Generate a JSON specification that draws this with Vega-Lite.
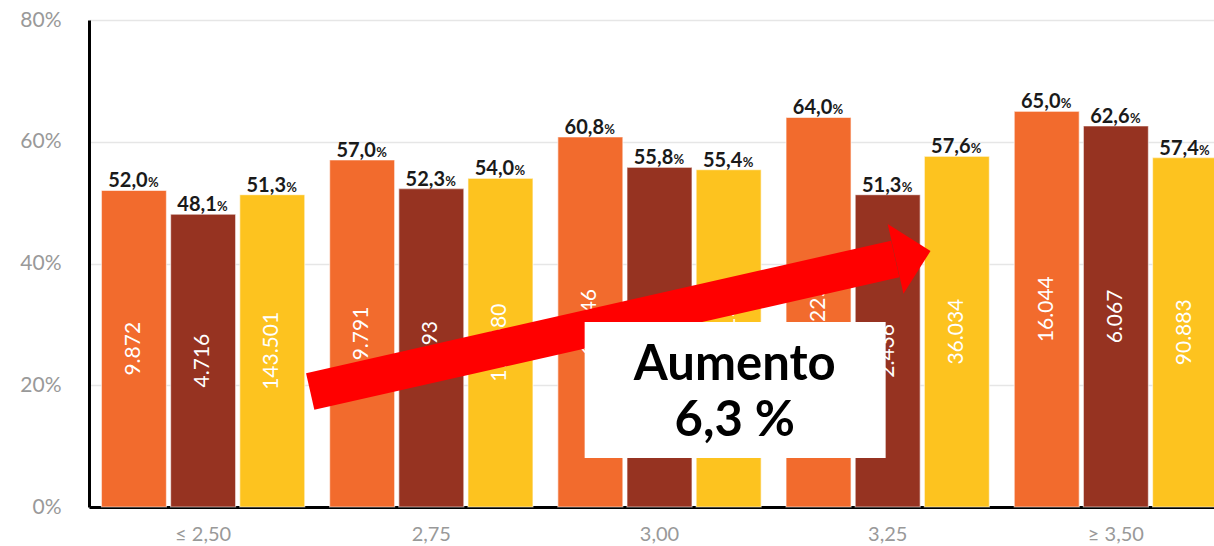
{
  "$schema": "https://vega.github.io/schema/vega-lite/v6.json",
  "autosize": {"type": "none"},
  "width": 1125,
  "height": 487,
  "padding": {"left": 89, "top": 20, "right": 0, "bottom": 39},
  "background": "white",
  "config": {"view": {"stroke": null}, "font": "Lato"},
  "datasets": {
    "bars": [
      {"g": "≤ 2,50", "s": "A", "v": 52.0, "t": "52,0", "n": "9.872"},
      {"g": "≤ 2,50", "s": "B", "v": 48.1, "t": "48,1", "n": "4.716"},
      {"g": "≤ 2,50", "s": "C", "v": 51.3, "t": "51,3", "n": "143.501"},
      {"g": "2,75", "s": "A", "v": 57.0, "t": "57,0", "n": "9.791"},
      {"g": "2,75", "s": "B", "v": 52.3, "t": "52,3", "n": "4.893"},
      {"g": "2,75", "s": "C", "v": 54.0, "t": "54,0", "n": "118.680"},
      {"g": "3,00", "s": "A", "v": 60.8, "t": "60,8", "n": "12.346"},
      {"g": "3,00", "s": "B", "v": 55.8, "t": "55,8", "n": "5.372"},
      {"g": "3,00", "s": "C", "v": 55.4, "t": "55,4", "n": "61.215"},
      {"g": "3,25", "s": "A", "v": 64.0, "t": "64,0", "n": "9.225"},
      {"g": "3,25", "s": "B", "v": 51.3, "t": "51,3", "n": "2.436"},
      {"g": "3,25", "s": "C", "v": 57.6, "t": "57,6", "n": "36.034"},
      {"g": "≥ 3,50", "s": "A", "v": 65.0, "t": "65,0", "n": "16.044"},
      {"g": "≥ 3,50", "s": "B", "v": 62.6, "t": "62,6", "n": "6.067"},
      {"g": "≥ 3,50", "s": "C", "v": 57.4, "t": "57,4", "n": "90.883"}
    ],
    "shaft": [
      {"ax": 0.9693, "ay": 18.97},
      {"ax": 3.533, "ay": 40.74}
    ],
    "head": [
      {"ax": 3.611, "ay": 41.40}
    ],
    "box": [
      {"ax": 2.172, "ax2": 3.491, "ay": 30.39, "ay2": 8.05}
    ],
    "note": [
      {"ax": 2.8296, "ay": 20.86, "label": "Aumento"},
      {"ax": 2.8296, "ay": 11.66, "label": "6,3 %"}
    ]
  },
  "layer": [
    {
      "data": {"name": "bars"},
      "encoding": {
        "x": {
          "field": "g", "type": "nominal", "sort": null,
          "scale": {"range": [0, 1141], "paddingInner": 0.109, "paddingOuter": 0.0545},
          "axis": {
            "title": null, "ticks": false, "domainColor": "#000000", "domainWidth": 3,
            "labelFont": "Lato", "labelFontSize": 20, "labelColor": "#999999", "labelPadding": 17, "labelAngle": 0
          }
        },
        "xOffset": {"field": "s", "type": "nominal", "scale": {"paddingInner": 0.06, "paddingOuter": 0}}
      },
      "layer": [
        {
          "encoding": {
            "y": {
              "field": "v", "type": "quantitative",
              "scale": {"domain": [0, 80], "nice": false, "zero": true},
              "axis": {
                "title": null, "values": [0, 20, 40, 60, 80], "labelExpr": "datum.value + '%'",
                "ticks": false, "domainColor": "#000000", "domainWidth": 3,
                "gridColor": "#e6e6e6", "gridWidth": 1.5,
                "labelFont": "Lato", "labelFontSize": 21, "labelColor": "#999999", "labelPadding": 28
              }
            }
          },
          "layer": [
            {
              "mark": {"type": "bar", "stroke": "#ffffff", "strokeOpacity": 0.55, "strokeWidth": 1.2},
              "encoding": {
                "color": {
                  "field": "s", "type": "nominal",
                  "scale": {"domain": ["A", "B", "C"], "range": ["#F26B2D", "#963321", "#FDC31F"]},
                  "legend": null
                }
              }
            },
            {
              "mark": {"type": "text", "font": "Lato", "fontSize": 20, "fontWeight": "bold", "color": "#1a1a1a", "align": "center", "baseline": "alphabetic", "dx": -6, "dy": -3},
              "encoding": {"text": {"field": "t"}}
            },
            {
              "mark": {"type": "text", "font": "Lato", "fontSize": 13, "fontWeight": "bold", "color": "#1a1a1a", "align": "left", "baseline": "alphabetic", "dx": 14, "dy": -3, "text": "%"},
              "encoding": {}
            }
          ]
        },
        {
          "mark": {"type": "text", "font": "Lato", "fontSize": 21, "color": "#ffffff", "angle": 270, "align": "center", "baseline": "middle"},
          "encoding": {
            "y": {"field": "v", "type": "quantitative", "scale": {"domain": [0, 160], "nice": false}, "axis": null},
            "text": {"field": "n"}
          }
        }
      ],
      "resolve": {"scale": {"y": "independent"}}
    },
    {
      "layer": [
        {
          "data": {"name": "shaft"},
          "mark": {"type": "line", "color": "#ff0000", "strokeWidth": 37.5, "strokeCap": "butt"},
          "encoding": {
            "x": {"field": "ax", "type": "quantitative", "scale": {"domain": [0, 5], "range": [0, 1141], "nice": false, "zero": false}, "axis": null},
            "y": {"field": "ay", "type": "quantitative", "scale": {"domain": [0, 80], "nice": false}, "axis": null}
          }
        },
        {
          "data": {"name": "head"},
          "mark": {"type": "point", "shape": "M 0.5 0 L -0.5 -1 L -0.5 1 Z", "size": 5127, "angle": -12.7, "filled": true, "color": "#ff0000", "opacity": 1, "strokeWidth": 0},
          "encoding": {
            "x": {"field": "ax", "type": "quantitative"},
            "y": {"field": "ay", "type": "quantitative"}
          }
        },
        {
          "data": {"name": "box"},
          "mark": {"type": "rect", "color": "#ffffff"},
          "encoding": {
            "x": {"field": "ax", "type": "quantitative"},
            "x2": {"field": "ax2"},
            "y": {"field": "ay", "type": "quantitative"},
            "y2": {"field": "ay2"}
          }
        },
        {
          "data": {"name": "note"},
          "mark": {"type": "text", "font": "Lato", "fontSize": 49, "fontWeight": "bold", "color": "#000000", "align": "center", "baseline": "alphabetic"},
          "encoding": {
            "x": {"field": "ax", "type": "quantitative"},
            "y": {"field": "ay", "type": "quantitative"},
            "text": {"field": "label"}
          }
        }
      ]
    }
  ],
  "resolve": {"scale": {"x": "independent", "y": "independent", "xOffset": "independent"}}
}
